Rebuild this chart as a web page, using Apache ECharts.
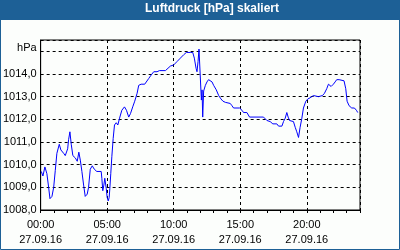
<!DOCTYPE html>
<html>
<head>
<meta charset="utf-8">
<script src="https://cdn.jsdelivr.net/npm/echarts@6/dist/echarts.min.js"></script>
<style>
html,body{margin:0;padding:0;background:#fcfefc;}
#c{width:400px;height:250px;}
</style>
</head>
<body>
<div id="c"></div>
<script>
// Time of day in hours (27.09.16)
var hours = [0.05,0.17,0.32,0.47,0.6,0.7,0.85,0.98,1.1,1.22,1.4,1.52,1.73,1.85,2.03,2.1,2.2,2.3,2.42,2.6,2.75,2.87,2.98,3.1,3.23,3.35,3.5,3.6,3.73,3.88,4.03,4.22,4.55,4.6,4.67,4.75,4.82,4.93,5.0,5.08,5.15,5.2,5.27,5.35,5.45,5.55,5.68,5.8,5.93,6.1,6.3,6.45,6.62,6.75,6.92,7.07,7.25,7.37,7.55,7.82,7.95,8.12,8.3,8.5,8.75,8.93,9.38,9.5,9.75,10.0,10.25,10.5,10.75,10.95,11.25,11.43,11.55,11.68,11.75,11.83,11.9,12.05,12.08,12.13,12.18,12.25,12.38,12.5,12.62,12.88,13.0,13.2,13.38,13.55,13.7,13.88,14.0,14.25,14.38,14.5,14.95,15.13,15.25,15.38,15.5,15.58,15.7,16.75,16.88,17.0,17.25,17.45,17.75,17.88,18.13,18.25,18.38,18.5,18.6,18.7,19.0,19.13,19.25,19.38,19.5,19.63,19.75,19.93,20.08,20.25,20.38,20.5,20.63,20.88,21.18,21.33,21.5,21.63,21.83,22.0,22.13,22.25,22.43,22.58,22.8,22.93,23.03,23.18,23.38,23.58,23.73,23.83];
// Air pressure in hPa
var pressure = [1009.7,1009.5,1009.9,1009.6,1009.0,1008.5,1008.6,1009.0,1009.75,1010.5,1010.9,1010.65,1010.5,1010.4,1010.7,1011.1,1011.45,1010.9,1010.4,1010.3,1010.15,1010.55,1010.2,1009.7,1009.1,1008.6,1008.7,1009.0,1009.8,1009.95,1009.8,1009.7,1009.7,1009.4,1008.85,1009.1,1009.4,1008.95,1008.55,1008.4,1008.55,1008.95,1009.6,1010.35,1011.15,1011.75,1011.85,1011.75,1012.05,1012.4,1012.55,1012.4,1012.1,1012.25,1012.55,1012.8,1013.15,1013.5,1013.55,1013.55,1013.6,1013.8,1013.95,1014.1,1014.1,1014.15,1014.15,1014.2,1014.35,1014.4,1014.55,1014.7,1014.85,1014.95,1014.95,1014.95,1014.7,1014.25,1014.1,1014.55,1015.1,1015.1,1012.85,1013.3,1012.1,1013.25,1013.5,1013.65,1013.75,1013.65,1013.5,1013.3,1013.05,1012.9,1012.8,1012.75,1012.7,1012.7,1012.6,1012.5,1012.5,1012.4,1012.3,1012.25,1012.3,1012.25,1012.1,1012.1,1012.05,1011.95,1011.9,1011.8,1011.8,1011.7,1011.7,1011.9,1012.05,1012.3,1012.1,1011.95,1011.9,1011.65,1011.45,1011.2,1011.65,1012.05,1012.5,1012.8,1012.9,1012.95,1013.0,1013.05,1013.0,1013.0,1013.05,1013.15,1013.35,1013.55,1013.45,1013.55,1013.65,1013.75,1013.75,1013.7,1013.7,1013.35,1012.8,1012.6,1012.5,1012.5,1012.4,1012.3];
var dateLabel = '27.09.16';
var titleText = 'Luftdruck [hPa] skaliert';
var unitLabel = 'hPa';

var data = hours.map(function (h, i) { return [h, pressure[i]]; });
var FONT = 'Liberation Sans';
var BLUE = '#1d6096';

var chart = echarts.init(document.getElementById('c'), null, {renderer: 'canvas'});
chart.setOption({
  animation: false,
  backgroundColor: '#fcfefc',
  graphic: [
    {type: 'rect', z: 0, shape: {x: 0, y: 0, width: 400, height: 20}, style: {fill: BLUE}},
    {type: 'rect', z: 0, shape: {x: 0.5, y: 0.5, width: 399, height: 249}, style: {fill: null, stroke: BLUE, lineWidth: 1}}
  ],
  title: {
    text: titleText,
    left: 145, top: 3, padding: 0,
    textStyle: {color: '#ffffff', fontFamily: FONT, fontWeight: 'bold', fontSize: 12}
  },
  grid: {left: 40, right: 40, top: 40, bottom: 40, show: true, borderColor: '#000', borderWidth: 1, backgroundColor: 'transparent'},
  xAxis: [{
    type: 'value', min: 0, max: 24, interval: 5, position: 'bottom',
    axisLine: {show: true, lineStyle: {color: '#000', width: 1}},
    axisTick: {show: false},
    splitLine: {show: true, lineStyle: {color: '#000', width: 1, type: [3, 3]}},
    axisLabel: {
      margin: 7, color: '#000', fontFamily: FONT, fontSize: 11, lineHeight: 15,
      formatter: function (v) {
        if (v % 5 !== 0 || v >= 24) return '';
        var hh = (v < 10 ? '0' : '') + v;
        return hh + ':00\n' + dateLabel;
      }
    }
  }, {
    type: 'value', min: 0, max: 24, interval: 1, position: 'bottom',
    axisLine: {show: false},
    axisTick: {show: true, length: 3, inside: false, lineStyle: {color: '#000'}},
    splitLine: {show: false},
    axisLabel: {show: false}
  }],
  yAxis: {
    type: 'value', min: 1008, max: 1015.5, interval: 1,
    name: unitLabel, nameLocation: 'end', nameGap: -8,
    nameTextStyle: {color: '#000', fontFamily: FONT, fontSize: 11, align: 'right', verticalAlign: 'middle', padding: [0, 4, 0, 0]},
    axisLine: {show: true, lineStyle: {color: '#000', width: 1}},
    axisTick: {show: false},
    splitLine: {show: true, lineStyle: {color: '#000', width: 1, type: [3, 3]}},
    axisLabel: {
      margin: 4, color: '#000', fontFamily: FONT, fontSize: 11,
      formatter: function (v) {
        if (v > 1014) return '';
        return v.toFixed(1).replace('.', ',');
      }
    }
  },
  series: [{
    type: 'line', xAxisIndex: 0, data: data, showSymbol: false, symbol: 'none',
    lineStyle: {color: '#0000ff', width: 1}, itemStyle: {color: '#0000ff'}
  }]
});
</script>
</body>
</html>
